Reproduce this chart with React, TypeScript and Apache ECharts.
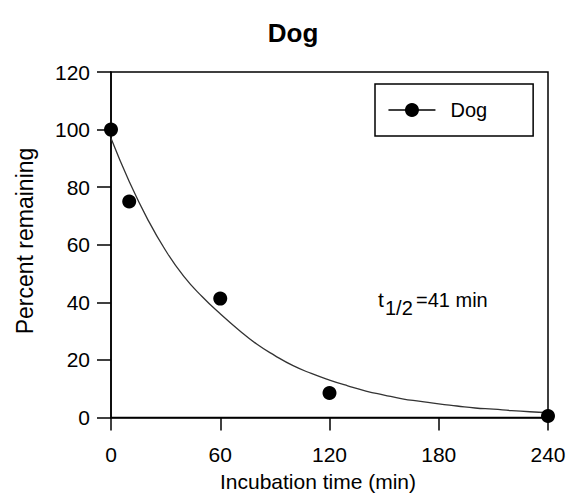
import React, { useEffect, useRef } from "react";
import * as echarts from "echarts";

const FONT = "'Liberation Sans', Arial, sans-serif";

// Measured data points (time in min, percent remaining)
const pointTimes = [0, 10, 60, 120, 240];
const pointValues = [100, 75, 41.3, 8.5, 0.5];

// Fitted curve
const curveTimes = [0, 10, 20, 30, 40, 50, 60, 70, 80, 90, 100, 110, 120, 130, 140, 150, 160, 170, 180, 190, 200, 210, 220, 230, 240];
const curveValues = [97, 82, 69, 58, 49, 42, 36, 30.5, 25.5, 21.5, 18, 15.3, 13, 11, 9.2, 7.8, 6.5, 5.6, 4.7, 4, 3.3, 2.9, 2.4, 2, 1.7];

const xTicks = [0, 60, 120, 180, 240];
const yTicks = [0, 20, 40, 60, 80, 100, 120];

const titleText = "Dog";
const seriesName = "Dog";
const xTitle = "Incubation time (min)";
const yTitle = "Percent remaining";

export default function App() {
  const ref = useRef<HTMLDivElement>(null);

  useEffect(() => {
    if (!ref.current) return;
    const chart = echarts.init(ref.current, null, { renderer: "svg" });
    const xInt = xTicks[1] - xTicks[0];
    const yInt = yTicks[1] - yTicks[0];
    chart.setOption({
      animation: false,
      backgroundColor: "#fff",
      title: {
        text: titleText,
        left: 288,
        top: 15,
        textAlign: "center",
        textStyle: { fontFamily: FONT, fontSize: 26, fontWeight: "bold", color: "#000" },
      },
      grid: {
        left: 111,
        right: 21,
        top: 72,
        bottom: 77.5,
        show: true,
        borderColor: "#000",
        borderWidth: 1.5,
        backgroundColor: "transparent",
      },
      legend: {
        data: [seriesName],
        left: 375,
        top: 84,
        orient: "horizontal",
        itemWidth: 47,
        itemHeight: 17.5,
        padding: [16, 46, 16, 12.7],
        borderColor: "#000",
        borderWidth: 1.5,
        selectedMode: false,
        lineStyle: { color: "#000", width: 1.5, opacity: 1 },
        itemStyle: { color: "#000" },
        textStyle: { fontFamily: FONT, fontSize: 20, color: "#000", padding: [0, 0, 0, 10] },
      },
      xAxis: {
        type: "value",
        min: xTicks[0],
        max: xTicks[xTicks.length - 1],
        interval: xInt,
        axisLine: { show: true, lineStyle: { color: "#000", width: 1.5 } },
        axisTick: { show: true, length: 13, lineStyle: { color: "#000", width: 1.5 } },
        axisLabel: { fontFamily: FONT, fontSize: 21, color: "#000", margin: 26 },
        splitLine: { show: false },
      },
      yAxis: {
        type: "value",
        min: yTicks[0],
        max: yTicks[yTicks.length - 1],
        interval: yInt,
        axisLine: { show: true, lineStyle: { color: "#000", width: 1.5 } },
        axisTick: { show: true, length: 14, lineStyle: { color: "#000", width: 1.5 } },
        axisLabel: { fontFamily: FONT, fontSize: 21, color: "#000", margin: 21 },
        splitLine: { show: false },
      },
      graphic: [
        {
          type: "text",
          x: 318,
          y: 481,
          style: {
            text: xTitle,
            fontFamily: FONT,
            fontSize: 21,
            fill: "#000",
            textAlign: "center",
            textVerticalAlign: "middle",
          },
        },
        {
          type: "text",
          x: 25,
          y: 241,
          rotation: Math.PI / 2,
          style: {
            text: yTitle,
            fontFamily: FONT,
            fontSize: 23,
            fill: "#000",
            textAlign: "center",
            textVerticalAlign: "middle",
          },
        },
        {
          type: "text",
          x: 378,
          y: 310,
          style: { text: "t", fontFamily: FONT, fontSize: 21, fill: "#000", textVerticalAlign: "bottom" },
        },
        {
          type: "text",
          x: 385,
          y: 318,
          style: { text: "1/2", fontFamily: FONT, fontSize: 20, fill: "#000", textVerticalAlign: "bottom" },
        },
        {
          type: "text",
          x: 416,
          y: 310,
          style: { text: "=41 min", fontFamily: FONT, fontSize: 20, fill: "#000", textVerticalAlign: "bottom" },
        },
      ],
      series: [
        {
          name: "fit",
          type: "line",
          smooth: true,
          symbol: "none",
          data: curveTimes.map((t, i) => [t, curveValues[i]]),
          lineStyle: { color: "#333", width: 1.3 },
          z: 2,
          silent: true,
        },
        {
          name: seriesName,
          type: "line",
          data: pointTimes.map((t, i) => [t, pointValues[i]]),
          symbol: "circle",
          symbolSize: 14,
          showAllSymbol: true,
          clip: false,
          lineStyle: { opacity: 0, width: 0 },
          itemStyle: { color: "#000" },
          z: 3,
        },
      ],
    });
    return () => chart.dispose();
  }, []);

  return (
    <div
      ref={ref}
      style={{ position: "absolute", left: 0, top: 0, width: 569, height: 495 }}
    />
  );
}
